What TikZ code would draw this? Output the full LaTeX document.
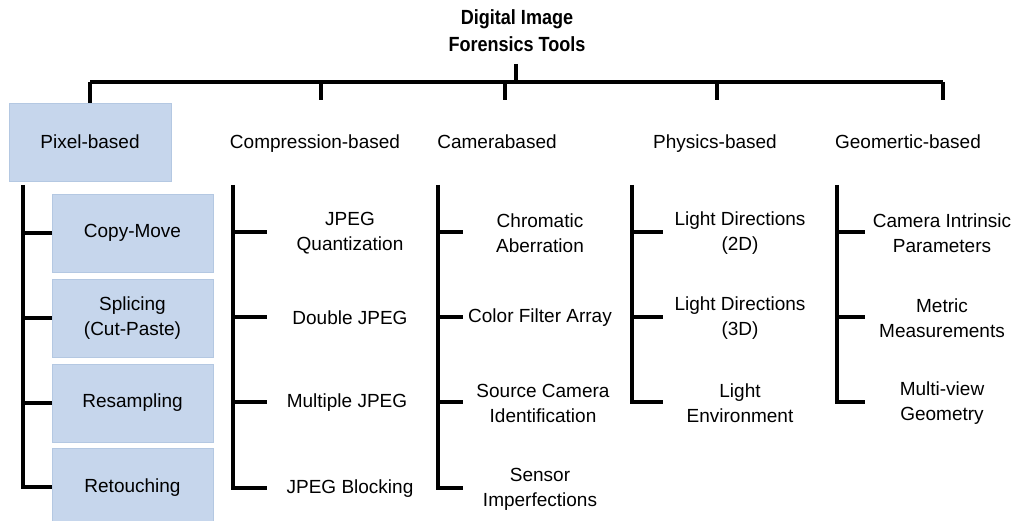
\documentclass[tikz,border=0pt]{standalone}
\usepackage{fontspec}
\setmainfont{Liberation Sans}
\newfontfamily\titlefont[FakeStretch=0.88]{Liberation Sans}
\definecolor{boxblue}{HTML}{C6D6EC}
\definecolor{boxedge}{HTML}{B4C8E2}
\begin{document}
\begin{tikzpicture}[x=1pt,y=-1pt,
  every node/.style={font=\fontsize{19}{25}\selectfont, align=center, inner sep=0pt},
  cat/.style={anchor=base},
  item/.style={},
  pbox/.style={fill=boxblue, draw=boxedge, line width=0.8pt},
  bar/.style={line width=3.5pt},
  spine/.style={line width=4pt},
  tick/.style={line width=4pt}]
\useasboundingbox (0,0) rectangle (1020,521);

% root
\node[font=\titlefont\bfseries\fontsize{20.5}{27}\selectfont] (root) at (517,31) {Digital Image\\Forensics Tools};

% categories
\node[pbox, minimum width=162pt, minimum height=78pt] (pix) at (90,142) {Pixel-based};
\node[cat] (comp) at (315,149) {Compression-based};
\node[cat] (cam)  at (497,149) {Camerabased};
\node[cat] (phys) at (715,149) {Physics-based};
\node[cat] (geo)  at (908,149) {Geomertic-based};

% drop points on the top bar
\coordinate (stem) at (516,64);
\coordinate (bpix) at (90,82);
\coordinate (bcomp) at (321,82);
\coordinate (bcam) at (505,82);
\coordinate (bphys) at (717,82);
\coordinate (bgeo) at (943,82);
\coordinate (dcomp) at (321,100);
\coordinate (dcam) at (505,100);
\coordinate (dphys) at (717,100);
\coordinate (dgeo) at (943,100);

\draw[bar] (stem) -- (516,82);
\draw[bar] (bpix) -- (bgeo);
\draw[bar] (bpix) -- (pix.north);
\draw[bar] (bcomp) -- (dcomp);
\draw[bar] (bcam) -- (dcam);
\draw[bar] (bphys) -- (dphys);
\draw[bar] (bgeo) -- (dgeo);

% pixel-based leaves
\node[pbox, minimum width=161pt, minimum height=78pt] (cm) at (132.5,233) {Copy-Move};
\node[pbox, minimum width=161pt, minimum height=78pt] (sp) at (132.5,318) {Splicing\\(Cut-Paste)};
\node[pbox, minimum width=161pt, minimum height=78pt] (rs) at (132.5,403) {Resampling};
\node[pbox, minimum width=161pt, minimum height=73pt, anchor=north] (rt) at (132.5,448) {};
\node (rtl) at (132.5,488) {Retouching};

\coordinate (spix) at (23,185);
\draw[spine] (spix) -- (23,487) -- (rt.west |- 0,487);
\draw[tick] (23,233) -- (cm.west);
\draw[tick] (23,318) -- (sp.west);
\draw[tick] (23,403) -- (rs.west);

% compression-based leaves
\node[item] (c1) at (350,233) {JPEG\\Quantization};
\node[item] (c2) at (350,318) {Double JPEG};
\node[item] (c3) at (347,403) {Multiple JPEG};
\node[item] (c4) at (350,489) {JPEG Blocking};
\coordinate (scomp) at (233,185);
\draw[spine] (scomp) -- (233,488) -- (267,488);
\draw[tick] (233,232) -- (267,232);
\draw[tick] (233,317) -- (267,317);
\draw[tick] (233,402) -- (267,402);

% camera-based leaves
\node[item] (k1) at (540,233) {Chromatic\\Aberration};
\node[item] (k2) at (540,318) {Color Filter Array};
\node[item] (k3) at (543,403) {Source Camera\\Identification};
\node[item] (k4) at (540,489) {Sensor\\Imperfections};
\coordinate (scam) at (438,185);
\draw[spine] (scam) -- (438,488) -- (463,488);
\draw[tick] (438,232) -- (463,232);
\draw[tick] (438,317) -- (463,317);
\draw[tick] (438,402) -- (463,402);

% physics-based leaves
\node[item] (p1) at (740,233) {Light Directions\\(2D)};
\node[item] (p2) at (740,318) {Light Directions\\(3D)};
\node[item] (p3) at (740,403) {Light\\Environment};
\coordinate (sphys) at (632,185);
\draw[spine] (sphys) -- (632,402) -- (663,402);
\draw[tick] (632,232) -- (663,232);
\draw[tick] (632,317) -- (663,317);

% geometric-based leaves
\node[item] (g1) at (942,233) {Camera Intrinsic\\Parameters};
\node[item] (g2) at (942,318) {Metric\\Measurements};
\node[item] (g3) at (942,403) {Multi-view\\Geometry};
\coordinate (sgeo) at (837,185);
\draw[spine] (sgeo) -- (837,402) -- (865,402);
\draw[tick] (837,232) -- (865,232);
\draw[tick] (837,317) -- (865,317);
\end{tikzpicture}
\end{document}
